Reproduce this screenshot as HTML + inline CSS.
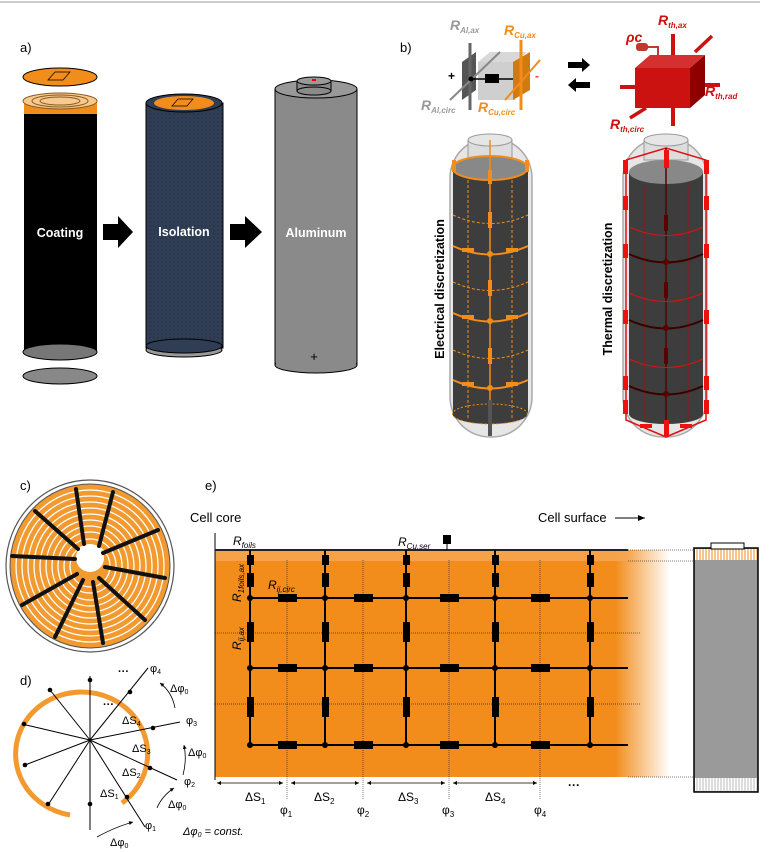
<!DOCTYPE html>
<html><head><meta charset="utf-8"><style>
html,body{margin:0;padding:0;background:#fff}
svg{display:block}
text{font-family:"Liberation Sans",sans-serif}
.ser{font-family:"Liberation Serif","DejaVu Serif",serif;font-style:italic}
</style></head><body>
<svg width="770" height="852" viewBox="0 0 770 852" xmlns="http://www.w3.org/2000/svg">
<defs>
<linearGradient id="fade" x1="0" x2="1" y1="0" y2="0">
<stop offset="0" stop-color="#f28c1a"/><stop offset="1" stop-color="#f28c1a" stop-opacity="0"/></linearGradient>
<pattern id="dots" width="4" height="4" patternUnits="userSpaceOnUse"><rect width="4" height="4" fill="#2f3d55"/><circle cx="2" cy="2" r="0.6" fill="#1c2638"/></pattern>
<pattern id="hatch" width="3" height="10" patternUnits="userSpaceOnUse"><rect width="3" height="10" fill="#fff"/><line x1="1" y1="0" x2="1" y2="10" stroke="#f28c1a" stroke-width="1"/></pattern>
<pattern id="hatchg" width="3" height="10" patternUnits="userSpaceOnUse"><rect width="3" height="10" fill="#fff"/><line x1="1" y1="0" x2="1" y2="10" stroke="#bbb" stroke-width="1"/></pattern>
<marker id="ah" markerWidth="8" markerHeight="8" refX="7" refY="4" orient="auto"><path d="M0,1 L7,4 L0,7z" fill="#000"/></marker>
<marker id="ahs" markerWidth="6" markerHeight="6" refX="5" refY="3" orient="auto-start-reverse"><path d="M0,0.5 L5,3 L0,5.5z" fill="#000"/></marker>
</defs>
<line x1="0" y1="2" x2="760" y2="2" stroke="#bbb" stroke-width="1.5"/>

<!-- a) -->
<text x="20" y="52" font-size="13">a)</text>
<ellipse cx="60" cy="77" rx="37" ry="9" fill="#f28c1a" stroke="#000"/>
<path d="M48,80 L55,72 L70,72 L63,80z" fill="none" stroke="#000" stroke-width="0.7"/>
<rect x="24" y="100" width="73" height="252" fill="#000"/>
<ellipse cx="60" cy="352" rx="37" ry="8" fill="#777" stroke="#000"/>
<rect x="24" y="100" width="73" height="14" fill="#f28c1a"/>
<ellipse cx="60" cy="101" rx="37" ry="8" fill="#f6c98e" stroke="#8a5a20"/>
<ellipse cx="60" cy="101" rx="28" ry="6" fill="none" stroke="#8a5a20"/>
<ellipse cx="60" cy="101" rx="20" ry="4" fill="none" stroke="#8a5a20"/>
<ellipse cx="60" cy="376" rx="37" ry="8" fill="#888" stroke="#000"/>
<text x="60" y="237" font-size="12.5" font-weight="bold" fill="#fff" text-anchor="middle">Coating</text>
<path d="M103,224 L118,224 L118,216 L133,232 L118,248 L118,240 L103,240z" fill="#000"/>

<rect x="146" y="103" width="77" height="245" fill="url(#dots)" stroke="#000"/>
<ellipse cx="184" cy="350" rx="38" ry="7" fill="#999" stroke="#000"/>
<ellipse cx="184" cy="346" rx="38" ry="7" fill="#2f3d55" stroke="#000"/>
<ellipse cx="184" cy="103" rx="38" ry="9" fill="#2f3d55" stroke="#000"/>
<ellipse cx="184" cy="103" rx="30" ry="7" fill="#f28c1a"/>
<path d="M172,106 L178,99 L193,99 L187,106z" fill="none" stroke="#000" stroke-width="0.7"/>
<text x="184" y="236" font-size="12.5" font-weight="bold" fill="#fff" text-anchor="middle">Isolation</text>
<path d="M230,224 L245,224 L245,216 L262,232 L245,248 L245,240 L230,240z" fill="#000"/>

<rect x="275" y="89" width="82" height="276" fill="#8a8a8a" stroke="#000"/>
<ellipse cx="316" cy="365" rx="41" ry="8" fill="#8a8a8a" stroke="#000"/>
<rect x="276" y="350" width="80" height="14" fill="#8a8a8a"/>
<ellipse cx="316" cy="89" rx="41" ry="9" fill="#999" stroke="#000"/>
<rect x="297" y="81" width="34" height="10" fill="#8a8a8a" stroke="#000"/>
<ellipse cx="314" cy="91" rx="17" ry="4" fill="#8a8a8a" stroke="#000"/>
<ellipse cx="314" cy="81" rx="17" ry="4" fill="#999" stroke="#000"/>
<rect x="312" y="79" width="4" height="2" fill="#e00"/>
<text x="316" y="237" font-size="12.5" font-weight="bold" fill="#fff" text-anchor="middle">Aluminum</text>
<text x="314" y="361" font-size="13" text-anchor="middle">+</text>

<!-- b) -->
<text x="400" y="52" font-size="13">b)</text>
<g font-weight="bold" font-style="italic">
<text x="450" y="30" font-size="14" fill="#999">R<tspan font-size="8" dy="3">Al,ax</tspan></text>
<text x="504" y="35" font-size="14" fill="#f28c1a">R<tspan font-size="8" dy="3">Cu,ax</tspan></text>
<text x="421" y="110" font-size="14" fill="#999">R<tspan font-size="8" dy="3">Al,circ</tspan></text>
<text x="478" y="112" font-size="14" fill="#f28c1a">R<tspan font-size="8" dy="3">Cu,circ</tspan></text>
</g>
<polygon points="478,62 490,52 527,52 515,62" fill="#d8d8d8"/>
<rect x="478" y="62" width="37" height="38" fill="#cfcfcf"/>
<polygon points="462,62 476,52 476,90 462,100" fill="#555"/>
<polygon points="513,62 530,52 530,90 513,100" fill="#d07a10"/>
<line x1="470" y1="43" x2="470" y2="110" stroke="#666" stroke-width="3"/>
<line x1="521" y1="40" x2="521" y2="110" stroke="#f28c1a" stroke-width="3"/>
<line x1="450" y1="100" x2="500" y2="52" stroke="#888" stroke-width="2"/>
<line x1="505" y1="100" x2="540" y2="60" stroke="#f28c1a" stroke-width="2"/>
<circle cx="471" cy="79" r="2.5" fill="#000"/>
<line x1="471" y1="79" x2="513" y2="79" stroke="#000" stroke-width="1.5"/>
<rect x="485" y="74" width="14" height="9" fill="#000"/>
<text x="448" y="80" font-size="12" font-weight="bold">+</text>
<text x="535" y="80" font-size="12" font-weight="bold" fill="#e33">-</text>
<rect x="568" y="62" width="14" height="6" fill="#000"/><polygon points="582,58 590,65 582,72" fill="#000"/>
<rect x="576" y="82" width="14" height="6" fill="#000"/><polygon points="576,78 568,85 576,92" fill="#000"/>

<g font-weight="bold" font-style="italic" fill="#cc1111">
<text x="626" y="42" font-size="14">ρc</text>
<text x="658" y="25" font-size="14">R<tspan font-size="8" dy="3">th,ax</tspan></text>
<text x="705" y="96" font-size="14">R<tspan font-size="8" dy="3">th,rad</tspan></text>
<text x="610" y="129" font-size="14">R<tspan font-size="8" dy="3">th,circ</tspan></text>
</g>
<polygon points="635,68 650,55 705,55 690,68" fill="#d43030"/>
<rect x="635" y="68" width="55" height="40" fill="#cc1111"/>
<polygon points="690,68 705,55 705,95 690,108" fill="#8e0000"/>
<rect x="636" y="43" width="12" height="8" rx="3" fill="#c0392b"/>
<path d="M648,47 L658,47 L658,55" stroke="#c0392b" stroke-width="2" fill="none"/>
<g fill="#cc1111">
<rect x="671" y="34" width="4" height="21"/><rect x="671" y="108" width="4" height="18"/>
<rect x="620" y="85" width="15" height="4"/><rect x="705" y="83" width="15" height="4"/>
</g>
<line x1="695" y1="52" x2="712" y2="36" stroke="#cc1111" stroke-width="3.5"/>
<line x1="630" y1="118" x2="646" y2="108" stroke="#cc1111" stroke-width="3.5"/>

<!-- electrical cylinder -->
<rect x="450" y="138" width="82" height="299" rx="40" fill="#e6e6e6" stroke="#aaa" stroke-width="1.5"/>
<rect x="468" y="140" width="44" height="20" fill="#ddd" stroke="#999"/>
<ellipse cx="490" cy="140" rx="22" ry="6" fill="#e6e6e6" stroke="#999"/>
<rect x="453" y="168" width="75" height="246" fill="#3d3d3d"/>
<ellipse cx="490" cy="168" rx="37.5" ry="12" fill="#888" stroke="#f28c1a" stroke-width="2"/>
<ellipse cx="490" cy="414" rx="37.5" ry="10" fill="#3d3d3d" stroke="#f28c1a" stroke-dasharray="2,2"/>
<g stroke="#f28c1a" fill="none">
<line x1="490" y1="140" x2="490" y2="425" stroke-width="1.5"/>
<line x1="468" y1="180" x2="468" y2="420" stroke-dasharray="3,2"/>
<line x1="512" y1="180" x2="512" y2="420" stroke-dasharray="3,2"/>
<path d="M453,215 Q490,232 528,215" stroke-dasharray="3,2"/>
<path d="M453,282 Q490,299 528,282" stroke-dasharray="3,2"/>
<path d="M453,350 Q490,367 528,350" stroke-dasharray="3,2"/>
<path d="M453,246 Q490,263 528,246" stroke-width="2"/>
<path d="M453,313 Q490,330 528,313" stroke-width="2"/>
<path d="M453,380 Q490,397 528,380" stroke-width="2"/>
</g>
<g fill="#f28c1a">
<rect x="488" y="212" width="4" height="16"/><rect x="488" y="280" width="4" height="16"/><rect x="488" y="348" width="4" height="16"/><rect x="488" y="170" width="4" height="14"/>
<rect x="462" y="248" width="12" height="4"/><rect x="506" y="248" width="12" height="4"/>
<rect x="462" y="315" width="12" height="4"/><rect x="506" y="315" width="12" height="4"/>
<rect x="462" y="382" width="12" height="4"/><rect x="506" y="382" width="12" height="4"/>
<circle cx="490" cy="254" r="3"/><circle cx="490" cy="321" r="3"/><circle cx="490" cy="388" r="3"/>
<rect x="452" y="160" width="4" height="12"/><rect x="525" y="160" width="4" height="12"/>
</g>
<rect x="488" y="400" width="4" height="36" fill="#555"/>
<text transform="translate(444,289) rotate(-90)" font-size="12.5" font-weight="bold" text-anchor="middle">Electrical discretization</text>

<!-- thermal cylinder -->
<rect x="623" y="138" width="84" height="299" rx="40" fill="#e6e6e6" stroke="#aaa" stroke-width="1.5"/>
<rect x="644" y="140" width="44" height="20" fill="#ddd" stroke="#999"/>
<ellipse cx="666" cy="140" rx="22" ry="6" fill="#e6e6e6" stroke="#999"/>
<rect x="629" y="172" width="74" height="242" fill="#3d3d3d"/>
<ellipse cx="666" cy="172" rx="37" ry="12" fill="#888"/>
<ellipse cx="666" cy="414" rx="37" ry="10" fill="#3d3d3d"/>
<g stroke="#e01010" fill="none">
<polyline points="626,160 666,148 706,160 706,420 666,437 626,420 626,160" stroke-width="1.5"/>
<line x1="666" y1="148" x2="666" y2="437" stroke="#5a0000" stroke-width="1.5"/>
<line x1="645" y1="185" x2="645" y2="420" stroke="#a01010"/>
<line x1="688" y1="185" x2="688" y2="420" stroke="#a01010"/>
<path d="M629,227 Q666,244 703,227"/><path d="M629,293 Q666,310 703,293"/><path d="M629,359 Q666,376 703,359"/>
<path d="M629,254 Q666,271 703,254" stroke="#3a0000" stroke-width="2"/>
<path d="M629,320 Q666,337 703,320" stroke="#3a0000" stroke-width="2"/>
<path d="M629,386 Q666,403 703,386" stroke="#3a0000" stroke-width="2"/>
</g>
<g fill="#f01010">
<rect x="623" y="160" width="5" height="14"/><rect x="704" y="160" width="5" height="14"/>
<rect x="623" y="196" width="5" height="14"/><rect x="704" y="196" width="5" height="14"/>
<rect x="623" y="244" width="5" height="14"/><rect x="704" y="244" width="5" height="14"/>
<rect x="623" y="310" width="5" height="14"/><rect x="704" y="310" width="5" height="14"/>
<rect x="623" y="376" width="5" height="14"/><rect x="704" y="376" width="5" height="14"/>
<rect x="623" y="400" width="5" height="14"/><rect x="704" y="400" width="5" height="14"/>
<rect x="664" y="150" width="5" height="18"/><rect x="664" y="420" width="5" height="17"/>
<rect x="640" y="424" width="12" height="4"/><rect x="680" y="424" width="12" height="4"/>
</g>
<g fill="#5a0000"><rect x="664" y="215" width="4" height="16"/><rect x="664" y="282" width="4" height="16"/><rect x="664" y="348" width="4" height="16"/>
<circle cx="666" cy="262" r="3"/><circle cx="666" cy="328" r="3"/><circle cx="666" cy="394" r="3"/></g>
<text transform="translate(612,289) rotate(-90)" font-size="12.5" font-weight="bold" text-anchor="middle">Thermal discretization</text>

<!-- c) -->
<text x="20" y="490" font-size="13">c)</text>
<ellipse cx="90" cy="566" rx="84" ry="86" fill="#fff" stroke="#555" stroke-width="1.2"/>
<ellipse cx="90" cy="566" rx="80" ry="82" fill="#f29a30" stroke="#555"/>
<g fill="none" stroke="#fff" stroke-width="1.3">
<ellipse cx="90" cy="566" rx="74" ry="76"/><ellipse cx="90" cy="566" rx="68" ry="70"/><ellipse cx="90" cy="566" rx="62" ry="64"/><ellipse cx="90" cy="566" rx="56" ry="58"/><ellipse cx="90" cy="566" rx="50" ry="52"/><ellipse cx="90" cy="566" rx="44" ry="46"/><ellipse cx="90" cy="566" rx="38" ry="40"/><ellipse cx="90" cy="566" rx="32" ry="34"/><ellipse cx="90" cy="566" rx="26" ry="27"/><ellipse cx="90" cy="566" rx="20" ry="21"/>
</g>
<circle cx="90" cy="558" r="14" fill="#fff"/>
<g stroke="#111" stroke-width="4" stroke-linecap="round">
<line x1="84" y1="544" x2="76" y2="489"/><line x1="99" y1="546" x2="113" y2="492"/><line x1="103" y1="553" x2="158" y2="530"/>
<line x1="105" y1="567" x2="165" y2="578"/><line x1="99" y1="578" x2="145" y2="620"/><line x1="93" y1="582" x2="103" y2="643"/>
<line x1="83" y1="580" x2="55" y2="637"/><line x1="77" y1="574" x2="22" y2="605"/><line x1="75" y1="559" x2="12" y2="556"/>
<line x1="78" y1="549" x2="35" y2="511"/>
</g>

<!-- d) -->
<text x="20" y="685" font-size="13">d)</text>
<path d="M70,815 A66,62 0 1 1 122,803" fill="none" stroke="#f29a30" stroke-width="5"/>
<g stroke="#000" stroke-width="1">
<line x1="90" y1="740" x2="90" y2="676"/><line x1="90" y1="740" x2="90" y2="830"/>
<line x1="90" y1="740" x2="148" y2="668"/><line x1="90" y1="740" x2="145" y2="827"/>
<line x1="90" y1="740" x2="180" y2="722"/><line x1="90" y1="740" x2="177" y2="780"/>
<line x1="90" y1="740" x2="22" y2="724"/><line x1="90" y1="740" x2="25" y2="765"/>
<line x1="90" y1="740" x2="48" y2="805"/><line x1="90" y1="740" x2="50" y2="690"/>
</g>
<g fill="#000"><circle cx="90" cy="680" r="2.3"/><circle cx="130" cy="692" r="2.3"/><circle cx="153" cy="728" r="2.3"/><circle cx="150" cy="768" r="2.3"/><circle cx="127" cy="797" r="2.3"/><circle cx="90" cy="804" r="2.3"/><circle cx="50" cy="690" r="2.3"/><circle cx="24" cy="724" r="2.3"/><circle cx="25" cy="765" r="2.3"/><circle cx="48" cy="804" r="2.3"/></g>
<g font-family="Liberation Serif,serif" font-size="11">
<text x="150" y="672">φ<tspan font-size="7" dy="2">4</tspan></text><text x="186" y="724">φ<tspan font-size="7" dy="2">3</tspan></text>
<text x="184" y="785">φ<tspan font-size="7" dy="2">2</tspan></text><text x="145" y="829">φ<tspan font-size="7" dy="2">1</tspan></text>
<text x="170" y="692">Δφ<tspan font-size="7" dy="2">0</tspan></text><text x="188" y="756">Δφ<tspan font-size="7" dy="2">0</tspan></text>
<text x="168" y="808">Δφ<tspan font-size="7" dy="2">0</tspan></text><text x="110" y="846">Δφ<tspan font-size="7" dy="2">0</tspan></text>
<text x="122" y="724">ΔS<tspan font-size="7" dy="2">4</tspan></text><text x="132" y="752">ΔS<tspan font-size="7" dy="2">3</tspan></text>
<text x="122" y="776">ΔS<tspan font-size="7" dy="2">2</tspan></text><text x="100" y="797">ΔS<tspan font-size="7" dy="2">1</tspan></text>
<text x="118" y="675" font-weight="bold">···</text><text x="103" y="708" font-weight="bold">···</text>
<text x="183" y="835" font-style="italic">Δφ<tspan font-size="7" dy="2">0</tspan><tspan dy="-2"> = const.</tspan></text>
</g>
<g fill="none" stroke="#000" stroke-width="0.8">
<path d="M175,708 Q172,692 160,683" marker-end="url(#ahs)"/><path d="M183,775 Q187,760 184,745" marker-end="url(#ahs)"/>
<path d="M157,808 Q162,796 174,788" marker-end="url(#ahs)"/><path d="M97,837 Q115,827 133,822" marker-end="url(#ahs)"/>
</g>

<!-- e) -->
<text x="205" y="490" font-size="13">e)</text>
<text x="190" y="522" font-size="13">Cell core</text>
<text x="538" y="522" font-size="13">Cell surface</text>
<line x1="615" y1="518" x2="645" y2="518" stroke="#000" marker-end="url(#ah)"/>
<rect x="215" y="550" width="400" height="227" fill="#f28c1a"/>
<rect x="615" y="550" width="55" height="227" fill="url(#fade)"/>
<rect x="215" y="551" width="413" height="10" fill="#f6a855" opacity="0.8"/>
<line x1="215" y1="533" x2="215" y2="780" stroke="#000" stroke-width="1"/>
<line x1="215" y1="550" x2="628" y2="550" stroke="#222" stroke-width="2"/>
<g stroke="#000" stroke-width="0.5" stroke-dasharray="1,1">
<line x1="287" y1="560" x2="287" y2="800"/><line x1="363" y1="560" x2="363" y2="800"/><line x1="449" y1="560" x2="449" y2="800"/><line x1="540" y1="560" x2="540" y2="800"/>
<line x1="215" y1="633" x2="640" y2="633"/><line x1="215" y1="704" x2="640" y2="704"/>
<line x1="628" y1="550" x2="694" y2="550"/><line x1="628" y1="561" x2="694" y2="561"/><line x1="628" y1="777" x2="694" y2="777"/>
</g>
<g stroke="#000" stroke-width="2">
<line x1="250" y1="550" x2="250" y2="745"/><line x1="325" y1="550" x2="325" y2="745"/><line x1="406" y1="550" x2="406" y2="745"/><line x1="495" y1="550" x2="495" y2="745"/><line x1="590" y1="550" x2="590" y2="745"/>
<line x1="250" y1="598" x2="628" y2="598"/><line x1="250" y1="668" x2="628" y2="668"/><line x1="250" y1="745" x2="628" y2="745"/>
<line x1="447" y1="543" x2="447" y2="550" stroke-width="1"/>
</g>
<g fill="#000">
<rect x="443" y="535" width="8" height="9"/>
<g id="vr">
<rect x="247" y="555" width="7" height="10"/><rect x="247" y="573" width="7" height="14"/><rect x="247" y="622" width="7" height="20"/><rect x="247" y="697" width="7" height="20"/>
</g>
<use href="#vr" x="75"/><use href="#vr" x="156"/><use href="#vr" x="245"/><use href="#vr" x="340"/>
<g id="hr"><rect x="278" y="594" width="19" height="8"/><rect x="278" y="664" width="19" height="8"/><rect x="278" y="741" width="19" height="8"/></g>
<use href="#hr" x="76"/><use href="#hr" x="162"/><use href="#hr" x="253"/>
<g id="nd"><circle cx="250" cy="598" r="3"/><circle cx="250" cy="668" r="3"/><circle cx="250" cy="745" r="3"/></g>
<use href="#nd" x="75"/><use href="#nd" x="156"/><use href="#nd" x="245"/><use href="#nd" x="340"/>
</g>
<g class="ser" font-size="12">
<text x="233" y="545">R<tspan font-size="8" dy="3">foils</tspan></text>
<text x="398" y="546">R<tspan font-size="8" dy="3">Cu,ser</tspan></text>
<text x="268" y="589">R<tspan font-size="8" dy="3">ij,circ</tspan></text>
<text transform="translate(241,602) rotate(-90)">R<tspan font-size="8" dy="3">1foils,ax</tspan></text>
<text transform="translate(241,650) rotate(-90)">R<tspan font-size="8" dy="3">ij,ax</tspan></text>
</g>
<g stroke="#000" stroke-width="0.8">
<line x1="217" y1="783" x2="283" y2="783" marker-start="url(#ahs)" marker-end="url(#ahs)"/>
<line x1="291" y1="783" x2="359" y2="783" marker-start="url(#ahs)" marker-end="url(#ahs)"/>
<line x1="367" y1="783" x2="445" y2="783" marker-start="url(#ahs)" marker-end="url(#ahs)"/>
<line x1="453" y1="783" x2="537" y2="783" marker-start="url(#ahs)" marker-end="url(#ahs)"/>
</g>
<g font-family="Liberation Serif,serif" font-size="12">
<text x="245" y="801">ΔS<tspan font-size="8" dy="3">1</tspan></text><text x="314" y="801">ΔS<tspan font-size="8" dy="3">2</tspan></text>
<text x="398" y="801">ΔS<tspan font-size="8" dy="3">3</tspan></text><text x="485" y="801">ΔS<tspan font-size="8" dy="3">4</tspan></text>
<text x="280" y="814">φ<tspan font-size="8" dy="3">1</tspan></text><text x="357" y="814">φ<tspan font-size="8" dy="3">2</tspan></text>
<text x="442" y="814">φ<tspan font-size="8" dy="3">3</tspan></text><text x="534" y="814">φ<tspan font-size="8" dy="3">4</tspan></text>
<text x="568" y="789" font-weight="bold">···</text>
</g>
<rect x="694" y="548" width="64" height="244" fill="#9a9a9a" stroke="#000" stroke-width="1.5"/>
<rect x="695" y="549" width="62" height="11" fill="url(#hatch)"/>
<rect x="695" y="778" width="62" height="13" fill="url(#hatchg)"/>
<rect x="711" y="543" width="33" height="6" fill="#fff" stroke="#000"/>
</svg>
</body></html>
